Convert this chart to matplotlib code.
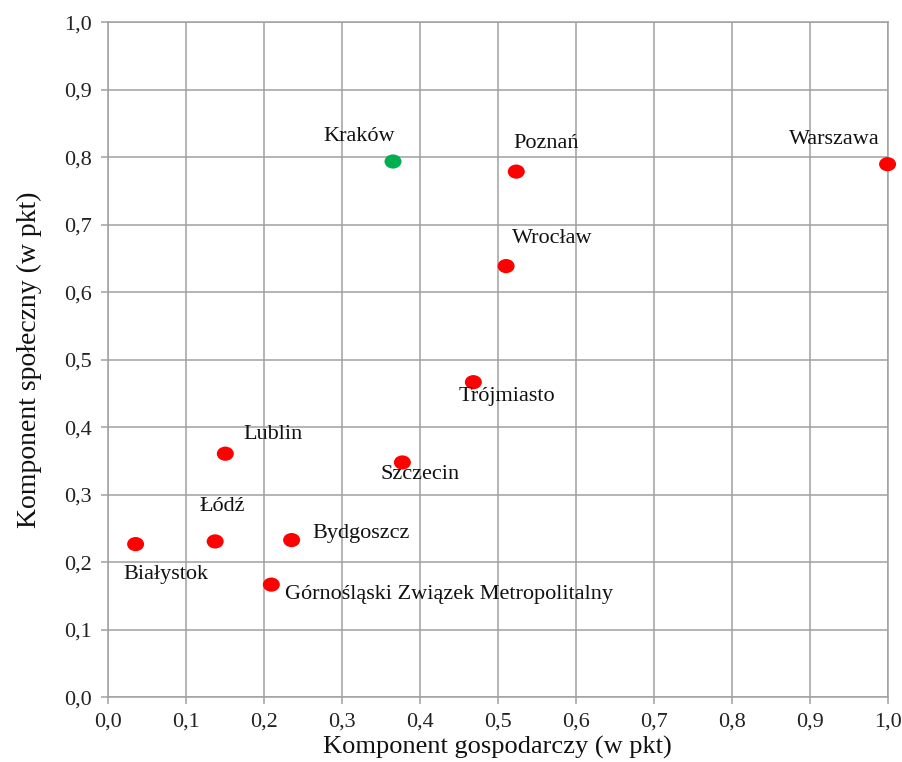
import numpy as np
import matplotlib.pyplot as plt
from matplotlib.path import Path
from matplotlib.ticker import FuncFormatter, MultipleLocator

cities = ['Kraków', 'Poznań', 'Warszawa', 'Wrocław', 'Trójmiasto', 'Szczecin',
          'Lublin', 'Łódź', 'Bydgoszcz', 'Białystok',
          'Górnośląski Związek Metropolitalny']
gospodarczy = [0.366, 0.524, 1.0, 0.511, 0.469, 0.378, 0.151, 0.138, 0.236, 0.036, 0.210]
spoleczny = [0.794, 0.779, 0.790, 0.639, 0.467, 0.348, 0.361, 0.231, 0.233, 0.227, 0.167]
point_colors = ['#00B050'] + ['#FF0000'] * 10

# label offsets (points) and alignment
offsets = [(-24, 18, 'center'), (-2, 20, 'left'), (-6, 18, 'right'), (4, 20, 'left'),
           (-11, -10, 'left'), (-16, -9, 'left'), (13, 14, 'left'), (5, 25, 'center'),
           (15, 5, 'left'), (-9, -22, 'left'), (10, -7, 'left')]

plt.rcParams['font.family'] = ['Liberation Serif', 'DejaVu Serif']

# slightly wider than tall marker
circle = Path.unit_circle()
ellipse = Path(circle.vertices * np.array([1.2, 1.0]), circle.codes)

fig = plt.figure(figsize=(9.02, 7.62), dpi=100)
ax = fig.add_axes([0.1192, 0.0849, 0.8648, 0.8856])

ax.scatter(gospodarczy, spoleczny, c=point_colors, marker=ellipse, s=150,
           zorder=3, clip_on=False, linewidths=0)

for name, x, y, (dx, dy, ha) in zip(cities, gospodarczy, spoleczny, offsets):
    ax.annotate(name, (x, y), xytext=(dx, dy), textcoords='offset points',
                ha=ha, va='center', fontsize=16, color='#111111')

ax.set_xlim(0, 1)
ax.set_ylim(0, 1)
ax.xaxis.set_major_locator(MultipleLocator(0.1))
ax.yaxis.set_major_locator(MultipleLocator(0.1))
fmt = FuncFormatter(lambda v, p: f'{v:.1f}'.replace('.', ','))
ax.xaxis.set_major_formatter(fmt)
ax.yaxis.set_major_formatter(fmt)

ax.grid(True, color='#a0a0a0', linewidth=1.1)
ax.set_axisbelow(True)
for s in ax.spines.values():
    s.set_color('#a0a0a0')
    s.set_linewidth(1.1)
ax.tick_params(colors='#a0a0a0', labelcolor='#222222', labelsize=16,
               length=5, width=1.1, pad=6)

ax.set_xlabel('Komponent gospodarczy (w pkt)', fontsize=19, labelpad=3, color='#111111')
ax.set_ylabel('Komponent społeczny (w pkt)', fontsize=20, labelpad=16, color='#111111')

fig.savefig('out.png', dpi=100)
